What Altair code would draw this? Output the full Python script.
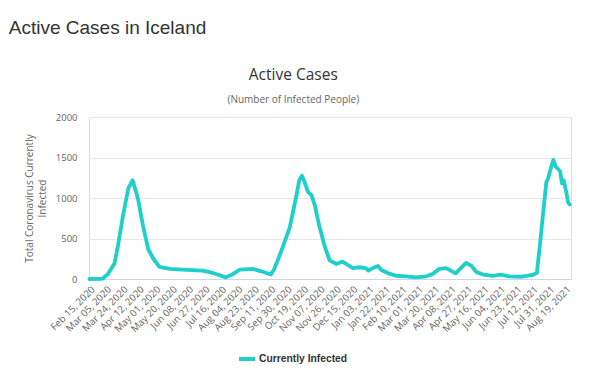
import altair as alt
import pandas as pd

# ---- data ----
dates = [
    "2020-02-15", "2020-02-28", "2020-03-01", "2020-03-07", "2020-03-15", "2020-03-19",
    "2020-03-25", "2020-03-31", "2020-04-05", "2020-04-11", "2020-04-17", "2020-04-23",
    "2020-04-29", "2020-05-06", "2020-05-18", "2020-06-02", "2020-06-25", "2020-07-07",
    "2020-07-22", "2020-07-30", "2020-08-07", "2020-08-22", "2020-09-01", "2020-09-12",
    "2020-09-16", "2020-09-21", "2020-09-26", "2020-10-04", "2020-10-11", "2020-10-15",
    "2020-10-18", "2020-10-21", "2020-10-25", "2020-10-29", "2020-11-02", "2020-11-07",
    "2020-11-13", "2020-11-19", "2020-11-27", "2020-12-04", "2020-12-10", "2020-12-16",
    "2020-12-23", "2020-12-31", "2021-01-03", "2021-01-08", "2021-01-14", "2021-01-18",
    "2021-01-26", "2021-02-04", "2021-02-16", "2021-02-27", "2021-03-11", "2021-03-18",
    "2021-03-26", "2021-04-03", "2021-04-14", "2021-04-20", "2021-04-26", "2021-05-02",
    "2021-05-08", "2021-05-16", "2021-05-27", "2021-06-05", "2021-06-15", "2021-06-30",
    "2021-07-12", "2021-07-17", "2021-07-20", "2021-07-24", "2021-07-28", "2021-07-30",
    "2021-08-01", "2021-08-05", "2021-08-08", "2021-08-10", "2021-08-13", "2021-08-15",
    "2021-08-17", "2021-08-20", "2021-08-22", "2021-08-24",
]
values = [
    0, 1, 3, 55, 190, 410,
    790, 1120, 1220, 1000, 660, 370,
    250, 150, 125, 115, 103, 75,
    20, 60, 115, 125, 95, 55,
    125, 260, 400, 640, 1000, 1220,
    1275, 1200, 1075, 1035, 910, 660,
    415, 230, 185, 215, 175, 135,
    145, 135, 105, 135, 160, 110,
    70, 40, 33, 20, 33, 60,
    125, 135, 70, 135, 200, 165,
    85, 55, 40, 55, 33, 28,
    50, 75, 370, 790, 1200, 1240,
    1325, 1470, 1385, 1365, 1325, 1180,
    1220, 1075, 950, 920,
]
series_name = "Currently Infected"

tick_dates = [
    (2020, 2, 15), (2020, 3, 5), (2020, 3, 24), (2020, 4, 12), (2020, 5, 1),
    (2020, 5, 20), (2020, 6, 8), (2020, 6, 27), (2020, 7, 16), (2020, 8, 4),
    (2020, 8, 23), (2020, 9, 11), (2020, 9, 30), (2020, 10, 19), (2020, 11, 7),
    (2020, 11, 26), (2020, 12, 15), (2021, 1, 3), (2021, 1, 22), (2021, 2, 10),
    (2021, 3, 1), (2021, 3, 20), (2021, 4, 8), (2021, 4, 27), (2021, 5, 16),
    (2021, 6, 4), (2021, 6, 23), (2021, 7, 12), (2021, 7, 31), (2021, 8, 19),
]
y_ticks = [0, 500, 1000, 1500, 2000]

df = pd.DataFrame({"date": dates, "value": values, "series": [series_name] * len(dates)})

tick_vals = [alt.DateTime(year=y, month=m, date=d, utc=True) for (y, m, d) in tick_dates]
x_domain = [
    alt.DateTime(year=2020, month=2, date=14, hours=12, utc=True),
    alt.DateTime(year=2021, month=8, date=25, hours=12, utc=True),
]

LINE_COLOR = "#1fcfcb"
FONT = "Open Sans"

line = alt.Chart(df).mark_line(strokeWidth=3.8, strokeJoin="round", strokeCap="round").encode(
    x=alt.X(
        "date:T",
        title=None,
        scale=alt.Scale(type="utc", domain=x_domain),
        axis=alt.Axis(
            values=tick_vals, format="%b %d, %Y", labelAngle=-45, labelOverlap=False,
            labelFlush=False, ticks=False, grid=False, domainColor="#ccd6eb",
            labelFont=FONT, labelFontSize=9.8, labelColor="#666666", labelPadding=5,
        ),
    ),
    y=alt.Y(
        "value:Q",
        title=["Total Coronavirus Currently", "Infected"],
        scale=alt.Scale(domain=[0, 2000]),
        axis=alt.Axis(
            values=y_ticks, format="d", domain=False, ticks=False, gridColor="#e6e6e6",
            labelFont=FONT, labelFontSize=9.5, labelColor="#666666", labelPadding=12,
            titleFont=FONT, titleFontSize=10, titleFontWeight="normal", titleColor="#666666",
            titlePadding=8, titleLineHeight=13,
        ),
    ),
    color=alt.Color(
        "series:N",
        scale=alt.Scale(domain=[series_name], range=[LINE_COLOR]),
        legend=alt.Legend(
            title=None, orient="none", legendX=148, legendY=232, padding=0,
            symbolType="stroke", symbolStrokeWidth=4, symbolSize=256,
            labelFont="Liberation Sans", labelFontWeight="bold", labelFontSize=10.3,
            labelColor="#333333", labelOffset=2,
        ),
    ),
).properties(
    width=482,
    height=162,
    title=alt.Title(
        "Active Cases", subtitle="(Number of Infected People)", anchor="middle", frame="bounds",
        font=FONT, fontSize=15.5, fontWeight="normal", color="#333333",
        subtitleFont=FONT, subtitleFontSize=10, subtitleColor="#666666", subtitlePadding=12,
        offset=7, dx=-5,
    ),
)

chart = alt.vconcat(line).properties(
    title=alt.Title(
        "Active Cases in Iceland", anchor="start", frame="bounds", font="Liberation Sans",
        fontSize=19, fontWeight="normal", color="#333333", offset=29, dx=-15,
    ),
    padding={"left": 0, "top": 11, "right": 0, "bottom": 0},
).configure_view(stroke=None).configure(background="white")

chart.save("out.html", embed_options={"renderer": "svg", "actions": False})
